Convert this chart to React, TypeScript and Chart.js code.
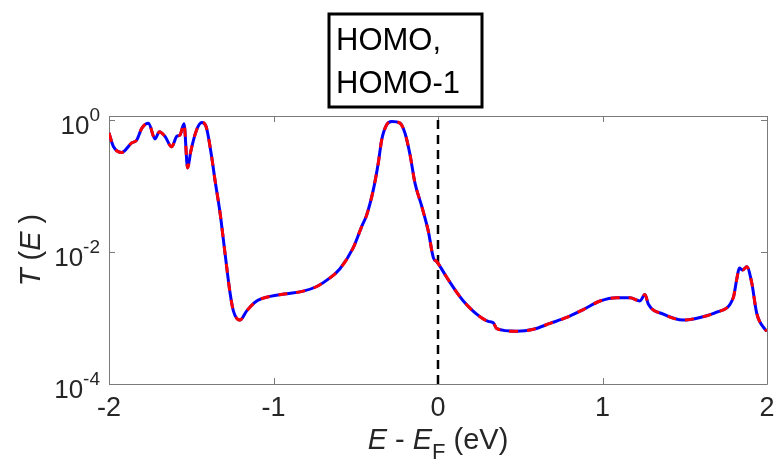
import React, { useEffect, useRef } from "react";
import { Chart, registerables } from "chart.js";

Chart.register(...registerables);

// Energy E - E_F (eV)
const energy = [
  -2.0, -1.974, -1.923, -1.862, -1.832, -1.8, -1.76, -1.72, -1.694, -1.66, -1.619, -1.588,
  -1.568, -1.544, -1.522, -1.503, -1.467, -1.436, -1.41, -1.376, -1.356, -1.325, -1.295,
  -1.264, -1.244, -1.204, -1.163, -1.102, -1.021, -0.92, -0.819, -0.737, -0.657, -0.596,
  -0.515, -0.464, -0.433, -0.393, -0.363, -0.342, -0.312, -0.281, -0.231, -0.201, -0.17,
  -0.14, -0.099, -0.059, -0.028, -0.008, 0.053, 0.123, 0.154, 0.235, 0.306, 0.336, 0.357,
  0.478, 0.58, 0.681, 0.782, 0.883, 0.985, 1.086, 1.167, 1.228, 1.258, 1.279, 1.37, 1.491,
  1.593, 1.694, 1.795, 1.816, 1.832, 1.852, 1.877, 1.907, 1.937, 1.988, 2.0,
];
// log10 of transmission T(E)
const log10T = [
  -0.19, -0.39, -0.485, -0.34, -0.3, -0.115, -0.04, -0.28, -0.17, -0.24, -0.4, -0.24,
  -0.22, -0.05, -0.72, -0.47, -0.14, -0.03, -0.09, -0.55, -0.9, -1.4, -2.01,
  -2.62, -2.89, -3.03, -2.89, -2.74, -2.67, -2.63, -2.59, -2.52, -2.39, -2.25,
  -1.93, -1.61, -1.43, -1.05, -0.645, -0.29, -0.065, -0.015, -0.04, -0.19, -0.52,
  -0.95, -1.3, -1.68, -2.085, -2.14, -2.38, -2.64, -2.74, -2.94, -3.05, -3.07, -3.16,
  -3.2, -3.17, -3.08, -2.99, -2.87, -2.74, -2.69, -2.69, -2.74, -2.64, -2.79, -2.94, -3.03,
  -2.99, -2.91, -2.69, -2.41, -2.24, -2.27, -2.22, -2.46, -2.92, -3.17, -3.2,
];
const xTicks = [-2, -1, 0, 1, 2];
const yTickExponents = [0, -2, -4];
const fermiLevel = [0];
const labelLines = ["HOMO,", "HOMO-1"];

const Y_MIN = 1e-4;
const Y_MAX = 1.17;

export default function App() {
  const ref = useRef<HTMLCanvasElement | null>(null);

  useEffect(() => {
    document.body.style.margin = "0";
    const canvas = ref.current;
    if (!canvas) return;
    const points = energy.map((e, i) => ({ x: e, y: Math.pow(10, log10T[i]) }));
    const fermi = [
      { x: fermiLevel[0], y: Y_MIN },
      { x: fermiLevel[0], y: Y_MAX },
    ];

    const axisColor = "#7a7a7a";
    const textColor = "#262626";

    const framePlugin = {
      id: "frame",
      beforeDatasetsDraw(chart: any) {
        const { ctx, chartArea: a, scales } = chart;
        const xs = scales.x;
        const ys = scales.y;
        ctx.save();
        ctx.strokeStyle = axisColor;
        ctx.lineWidth = 1;
        ctx.beginPath();
        ctx.rect(Math.round(a.left) + 0.5, Math.round(a.top) + 0.5, Math.round(a.right - a.left), Math.round(a.bottom - a.top));
        ctx.stroke();
        const tl = 6;
        ctx.beginPath();
        xTicks.forEach((v) => {
          const px = Math.round(xs.getPixelForValue(v)) + 0.5;
          ctx.moveTo(px, a.bottom);
          ctx.lineTo(px, a.bottom - tl);
          ctx.moveTo(px, a.top);
          ctx.lineTo(px, a.top + tl);
        });
        yTickExponents.forEach((ex) => {
          const py = Math.round(ys.getPixelForValue(Math.pow(10, ex))) + 0.5;
          ctx.moveTo(a.left, py);
          ctx.lineTo(a.left + tl, py);
          ctx.moveTo(a.right, py);
          ctx.lineTo(a.right - tl, py);
        });
        ctx.stroke();
        ctx.restore();
      },
      afterDraw(chart: any) {
        const { ctx, chartArea: a, scales } = chart;
        const xs = scales.x;
        const ys = scales.y;
        ctx.save();
        ctx.fillStyle = textColor;
        // x tick labels
        ctx.font = "27px 'Liberation Sans', Arial, sans-serif";
        ctx.textAlign = "center";
        ctx.textBaseline = "alphabetic";
        xTicks.forEach((v) => {
          const px = xs.getPixelForValue(v);
          ctx.fillText(String(v), px, 416);
        });
        // y tick labels 10^n
        yTickExponents.forEach((ex) => {
          const py = ys.getPixelForValue(Math.pow(10, ex));
          const right = a.left - 9;
          ctx.font = "19px 'Liberation Sans', Arial, sans-serif";
          const expStr = String(ex);
          const ew = ctx.measureText(expStr).width;
          ctx.textAlign = "left";
          ctx.fillText(expStr, right - ew, py + 1);
          ctx.font = "26px 'Liberation Sans', Arial, sans-serif";
          const bw = ctx.measureText("10").width;
          ctx.fillText("10", right - ew - bw, py + 14);
        });
        // x title: E - E_F (eV)
        const cx = (a.left + a.right) / 2;
        const base = 449;
        const fItal = "italic 29px 'Liberation Sans', Arial, sans-serif";
        const fReg = "29px 'Liberation Sans', Arial, sans-serif";
        const fSub = "22px 'Liberation Sans', Arial, sans-serif";
        const parts = [
          { t: "E", f: fItal, dy: 0 },
          { t: " - ", f: fReg, dy: 0 },
          { t: "E", f: fItal, dy: 0 },
          { t: "F", f: fSub, dy: 10 },
          { t: " (eV)", f: fReg, dy: 0 },
        ];
        let total = 0;
        const widths = parts.map((p) => {
          ctx.font = p.f;
          const w = ctx.measureText(p.t).width;
          total += w;
          return w;
        });
        let x = cx - total / 2;
        ctx.textAlign = "left";
        parts.forEach((p, i) => {
          ctx.font = p.f;
          ctx.fillText(p.t, x, base + p.dy);
          x += widths[i];
        });
        // y title: T (E )
        ctx.save();
        ctx.translate(40, (a.top + a.bottom) / 2);
        ctx.rotate(-Math.PI / 2);
        const yparts = [
          { t: "T", f: fItal },
          { t: " (", f: fReg },
          { t: "E", f: fItal },
          { t: " )", f: fReg },
        ];
        let yt = 0;
        const yw = yparts.map((p) => {
          ctx.font = p.f;
          const w = ctx.measureText(p.t).width;
          yt += w;
          return w;
        });
        let yx = -yt / 2;
        yparts.forEach((p, i) => {
          ctx.font = p.f;
          ctx.fillText(p.t, yx, 0);
          yx += yw[i];
        });
        ctx.restore();
        // annotation box
        ctx.strokeStyle = "#000";
        ctx.lineWidth = 3;
        ctx.strokeRect(329, 14, 153, 93);
        ctx.fillStyle = "#000";
        ctx.font = "31px 'Liberation Sans', Arial, sans-serif";
        ctx.textAlign = "left";
        ctx.fillText(labelLines[0], 336, 50);
        ctx.fillText(labelLines[1], 336, 93);
        ctx.restore();
      },
    };

    const chart = new Chart(canvas, {
      type: "line",
      data: {
        datasets: [
          {
            label: "red",
            data: points,
            borderColor: "#ff0000",
            borderWidth: 3,
            borderDash: [9, 9],
            pointRadius: 0,
            cubicInterpolationMode: "monotone",
            fill: false,
            order: 0,
          },
          {
            label: "blue",
            data: points,
            borderColor: "#0000ff",
            borderWidth: 3,
            pointRadius: 0,
            cubicInterpolationMode: "monotone",
            fill: false,
            order: 1,
          },
          {
            label: "EF",
            data: fermi,
            borderColor: "#000000",
            borderWidth: 2.5,
            borderDash: [9, 6],
            pointRadius: 0,
            fill: false,
            order: 2,
          },
        ],
      },
      options: {
        animation: false,
        responsive: false,
        devicePixelRatio: 1,
        parsing: false,
        layout: { padding: { left: 109, right: 9, top: 116, bottom: 77 } },
        plugins: { legend: { display: false }, tooltip: { enabled: false } },
        scales: {
          x: { type: "linear", min: -2, max: 2, display: false },
          y: { type: "logarithmic", min: Y_MIN, max: Y_MAX, display: false },
        },
      },
      plugins: [framePlugin],
    } as any);
    return () => chart.destroy();
  }, []);

  return <canvas ref={ref} width={776} height={461} style={{ display: "block" }} />;
}
